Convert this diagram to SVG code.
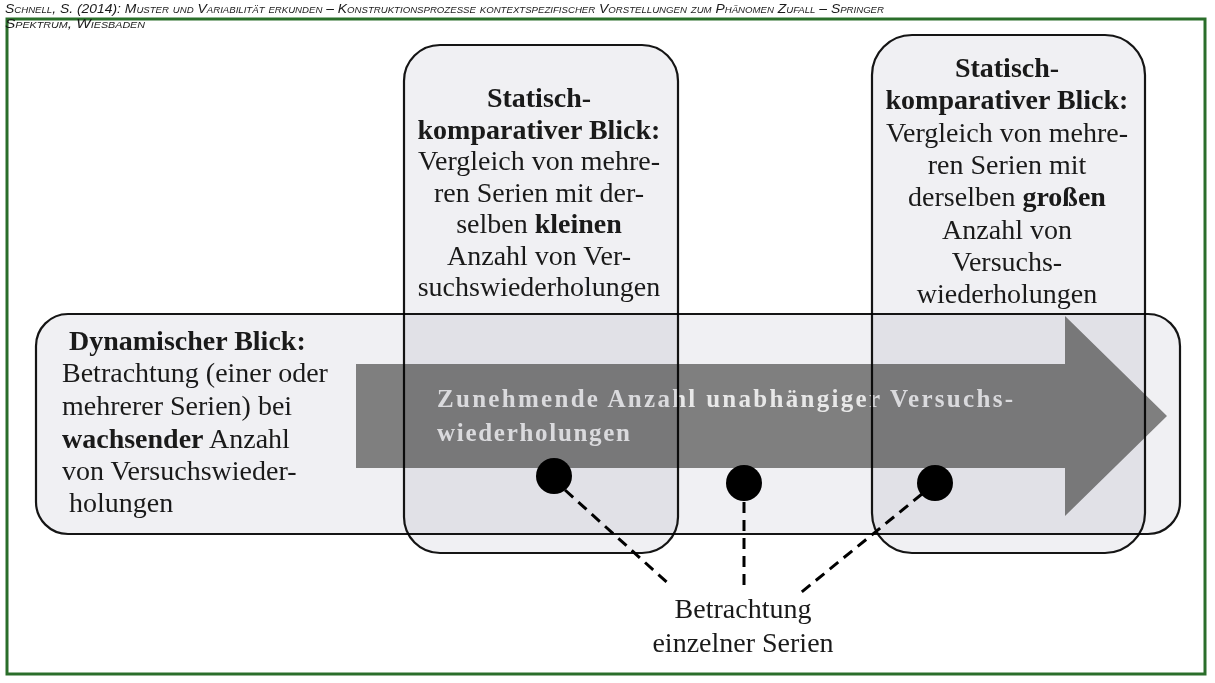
<svg xmlns="http://www.w3.org/2000/svg" width="1215" height="683" viewBox="0 0 1215 683">
<style>
.hdr{font-family:"Liberation Sans Narrow","Liberation Sans",Arial,sans-serif;font-style:italic;font-variant:small-caps;font-size:13px;fill:#1a1a1a}
.t{font-family:"Liberation Serif","Times New Roman",serif;font-size:28px;fill:#1a1a1a}
.b{font-weight:bold}
.c{text-anchor:middle}
.box{fill:#f0f0f3;stroke:#151515;stroke-width:2.2;mix-blend-mode:multiply}
.at{font-family:"Liberation Serif","Times New Roman",serif;font-weight:bold;font-size:25px;fill:#e8e8e8}
.dash{stroke:#000;stroke-width:3;stroke-dasharray:11 7;fill:none}
</style>
<rect width="1215" height="683" fill="#ffffff"/>
<g id="frame">
<rect x="7" y="19" width="1198" height="655" fill="none" stroke="#2a6e2a" stroke-width="3"/>
</g>
<g id="header">
<text class="hdr" x="5" y="13" textLength="879" lengthAdjust="spacingAndGlyphs">Schnell, S. (2014): Muster und Variabilität erkunden – Konstruktionsprozesse kontextspezifischer Vorstellungen zum Phänomen Zufall – Springer</text>
<text class="hdr" x="5" y="28" textLength="140" lengthAdjust="spacingAndGlyphs">Spektrum, Wiesbaden</text>
</g>
<g id="node-dynamic">
<rect class="box" x="36" y="314" width="1144" height="220" rx="32" ry="32"/>
<text class="t b" x="69" y="350">Dynamischer Blick:</text>
<text class="t" x="62" y="382">Betrachtung (einer oder</text>
<text class="t" x="62" y="415">mehrerer Serien) bei</text>
<text class="t" x="62" y="448"><tspan class="b">wachsender</tspan> Anzahl</text>
<text class="t" x="62" y="480">von Versuchswieder-</text>
<text class="t" x="69" y="512">holungen</text>
</g>
<g id="arrow">
<polygon points="356,364 1065,364 1065,316 1167,416 1065,516 1065,468 356,468" fill="#7f7f7f"/>
<text class="at" x="437" y="407" textLength="576">Zunehmende Anzahl unabhängiger Versuchs-</text>
<text class="at" x="437" y="441" textLength="193">wiederholungen</text>
</g>
<g id="node-static-small">
<rect class="box" x="404" y="45" width="274" height="508" rx="36" ry="36"/>
<text class="t b c" x="539" y="107">Statisch-</text>
<text class="t b c" x="539" y="138.5">komparativer Blick:</text>
<text class="t c" x="539" y="170">Vergleich von mehre-</text>
<text class="t c" x="539" y="201.5">ren Serien mit der-</text>
<text class="t c" x="539" y="233">selben <tspan class="b">kleinen</tspan></text>
<text class="t c" x="539" y="264.5">Anzahl von Ver-</text>
<text class="t c" x="539" y="296">suchswiederholungen</text>
</g>
<g id="node-static-large">
<rect class="box" x="872" y="35" width="273" height="518" rx="40" ry="40"/>
<text class="t b c" x="1007" y="77">Statisch-</text>
<text class="t b c" x="1007" y="109.3">komparativer Blick:</text>
<text class="t c" x="1007" y="141.6">Vergleich von mehre-</text>
<text class="t c" x="1007" y="173.9">ren Serien mit</text>
<text class="t c" x="1007" y="206.2">derselben <tspan class="b">großen</tspan></text>
<text class="t c" x="1007" y="238.5">Anzahl von</text>
<text class="t c" x="1007" y="270.8">Versuchs-</text>
<text class="t c" x="1007" y="303">wiederholungen</text>
</g>
<g id="connectors">
<line class="dash" x1="565" y1="490" x2="671" y2="586"/>
<line class="dash" x1="744" y1="502" x2="744" y2="590"/>
<line class="dash" x1="922" y1="494" x2="798" y2="595"/>
</g>
<g id="series-dots">
<circle cx="554" cy="476" r="18" fill="#000"/>
<circle cx="744" cy="483" r="18" fill="#000"/>
<circle cx="935" cy="483" r="18" fill="#000"/>
</g>
<g id="node-label">
<text class="t c" x="743" y="618">Betrachtung</text>
<text class="t c" x="743" y="652">einzelner Serien</text>
</g>
</svg>
